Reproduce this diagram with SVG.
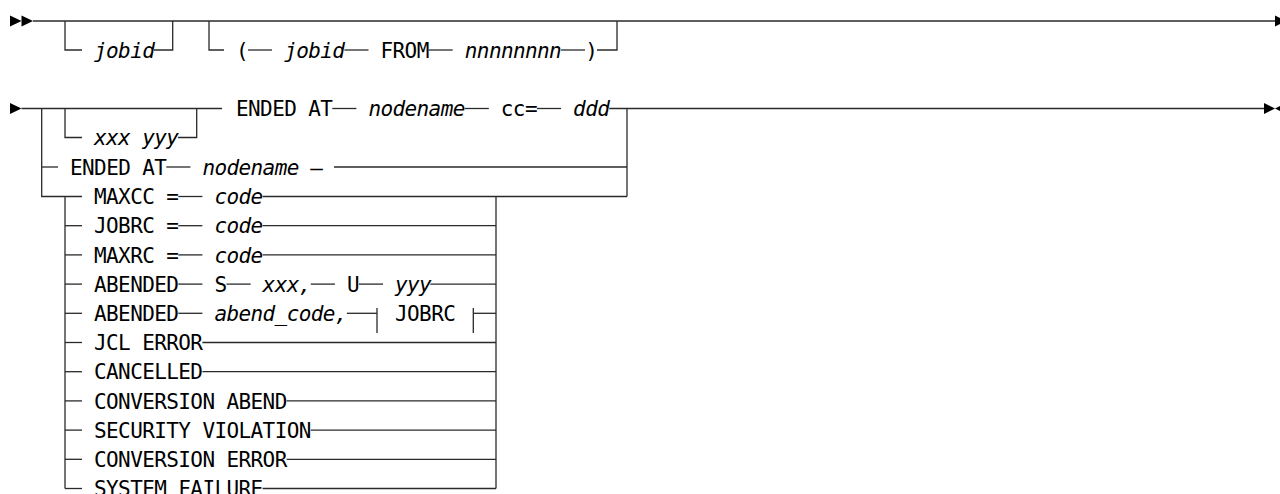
<svg xmlns="http://www.w3.org/2000/svg" width="1280" height="494" viewBox="0 0 1280 494">
<style>
.t{font-family:"DejaVu Sans Mono","Liberation Mono",monospace;font-size:21px;letter-spacing:-0.6px;fill:#000}
.i{font-style:italic}
#connectors path{stroke:#2a2a2a;stroke-width:1.3;fill:none}
.ah{fill:#000}
</style>
<rect width="1280" height="494" fill="#fff"/>
<g id="connectors">
  <!-- row 1 -->
  <path d="M33,21 H1275"/>
  <path d="M65,21 V50 H82"/>
  <path d="M154,50 H172.7 V21"/>
  <path d="M209,21 V50 H224"/>
  <path d="M248,50 H272"/>
  <path d="M344.4,50 H368.5"/>
  <path d="M428.6,50 H452.7"/>
  <path d="M561,50 H585"/>
  <path d="M597,50 H617 V21"/>
  <!-- row 2 main -->
  <path d="M21.5,108.5 H222"/>
  <path d="M332.3,108.5 H356.4"/>
  <path d="M464.7,108.5 H488.8"/>
  <path d="M537,108.5 H561"/>
  <path d="M609.2,108.5 H1264"/>
  <path d="M65,108.5 V137.5 H82"/>
  <path d="M178,137.5 H196.7 V108.5"/>
  <!-- outer choice -->
  <path d="M41.7,108.5 V196.5 H82"/>
  <path d="M41.7,167 H58"/>
  <path d="M166.3,167 H190.4"/>
  <path d="M334,167 H627"/>
  <path d="M627,108.5 V196.5"/>
  <path d="M262.6,196.5 H627"/>
  <!-- inner choice rails -->
  <path d="M65,196.5 V488.5"/>
  <path d="M496,196.5 V488.5"/>
  <!-- MAXCC -->
  <path d="M178.3,196.5 H202.4"/>
  <!-- JOBRC -->
  <path d="M65,225.7 H82"/>
  <path d="M178.3,225.7 H202.4"/>
  <path d="M262.6,225.7 H496"/>
  <!-- MAXRC -->
  <path d="M65,254.9 H82"/>
  <path d="M178.3,254.9 H202.4"/>
  <path d="M262.6,254.9 H496"/>
  <!-- ABENDED S -->
  <path d="M65,284.1 H82"/>
  <path d="M178.3,284.1 H202.4"/>
  <path d="M226.5,284.1 H250.6"/>
  <path d="M310.8,284.1 H334.9"/>
  <path d="M358.9,284.1 H383"/>
  <path d="M430.3,284.1 H496"/>
  <!-- ABENDED abend_code -->
  <path d="M65,313.3 H82"/>
  <path d="M178.3,313.3 H202.4"/>
  <path d="M346.9,313.3 H377"/>
  <path d="M377,308 V333"/>
  <path d="M473.3,308 V333"/>
  <path d="M473.3,313.3 H496"/>
  <!-- single keyword rows -->
  <path d="M65,342.5 H82"/>
  <path d="M202.4,342.5 H496"/>
  <path d="M65,371.7 H82"/>
  <path d="M202.4,371.7 H496"/>
  <path d="M65,400.9 H82"/>
  <path d="M286.6,400.9 H496"/>
  <path d="M65,430.1 H82"/>
  <path d="M310.7,430.1 H496"/>
  <path d="M65,459.3 H82"/>
  <path d="M286.6,459.3 H496"/>
  <path d="M65,488.5 H82"/>
  <path d="M262.6,488.5 H496"/>
  <!-- arrowheads -->
  <polygon class="ah" points="10,15.5 21.5,21 10,26.5"/>
  <polygon class="ah" points="21.5,15.5 33,21 21.5,26.5"/>
  <polygon class="ah" points="1275,15.5 1286,21 1275,26.5"/>
  <polygon class="ah" points="10,103 21.5,108.5 10,114"/>
  <polygon class="ah" points="1264,103 1275,108.5 1264,114"/>
  <polygon class="ah" points="1286,103 1275,108.5 1286,114"/>
</g>
<g id="row1-jobid"><text class="t i" x="94" y="57.6">jobid</text></g>
<g id="row1-range">
  <text class="t" x="236" y="57.6">(</text>
  <text class="t i" x="284.2" y="57.6">jobid</text>
  <text class="t" x="380.5" y="57.6">FROM</text>
  <text class="t i" x="464.8" y="57.6">nnnnnnnn</text>
  <text class="t" x="585.2" y="57.6">)</text>
</g>
<g id="row2-xxxyyy"><text class="t i" x="94" y="145.1">xxx yyy</text></g>
<g id="row2-ended-cc">
  <text class="t" x="236" y="116.1">ENDED AT</text>
  <text class="t i" x="368.4" y="116.1">nodename</text>
  <text class="t" x="500.8" y="116.1">cc=</text>
  <text class="t i" x="573.1" y="116.1">ddd</text>
</g>
<g id="row2-ended-node">
  <text class="t" x="70" y="174.6">ENDED AT</text>
  <text class="t i" x="202.4" y="174.6">nodename</text>
  <text class="t" x="310.2" y="174.6">–</text>
</g>
<g id="maxcc"><text class="t" x="94" y="204.1">MAXCC =</text><text class="t i" x="214.4" y="204.1">code</text></g>
<g id="jobrc"><text class="t" x="94" y="233.3">JOBRC =</text><text class="t i" x="214.4" y="233.3">code</text></g>
<g id="maxrc"><text class="t" x="94" y="262.5">MAXRC =</text><text class="t i" x="214.4" y="262.5">code</text></g>
<g id="abended-su">
  <text class="t" x="94" y="291.7">ABENDED</text>
  <text class="t" x="214.4" y="291.7">S</text>
  <text class="t i" x="262.6" y="291.7">xxx,</text>
  <text class="t" x="346.9" y="291.7">U</text>
  <text class="t i" x="395" y="291.7">yyy</text>
</g>
<g id="abended-code">
  <text class="t" x="94" y="320.9">ABENDED</text>
  <text class="t i" x="214.4" y="320.9">abend_code,</text>
  <text class="t" x="395" y="320.9">JOBRC</text>
</g>
<g id="jcl-error"><text class="t" x="94" y="350.1">JCL ERROR</text></g>
<g id="cancelled"><text class="t" x="94" y="379.3">CANCELLED</text></g>
<g id="conversion-abend"><text class="t" x="94" y="408.5">CONVERSION ABEND</text></g>
<g id="security-violation"><text class="t" x="94" y="437.7">SECURITY VIOLATION</text></g>
<g id="conversion-error"><text class="t" x="94" y="466.9">CONVERSION ERROR</text></g>
<g id="system-failure"><text class="t" x="94" y="496.1">SYSTEM FAILURE</text></g>
</svg>
